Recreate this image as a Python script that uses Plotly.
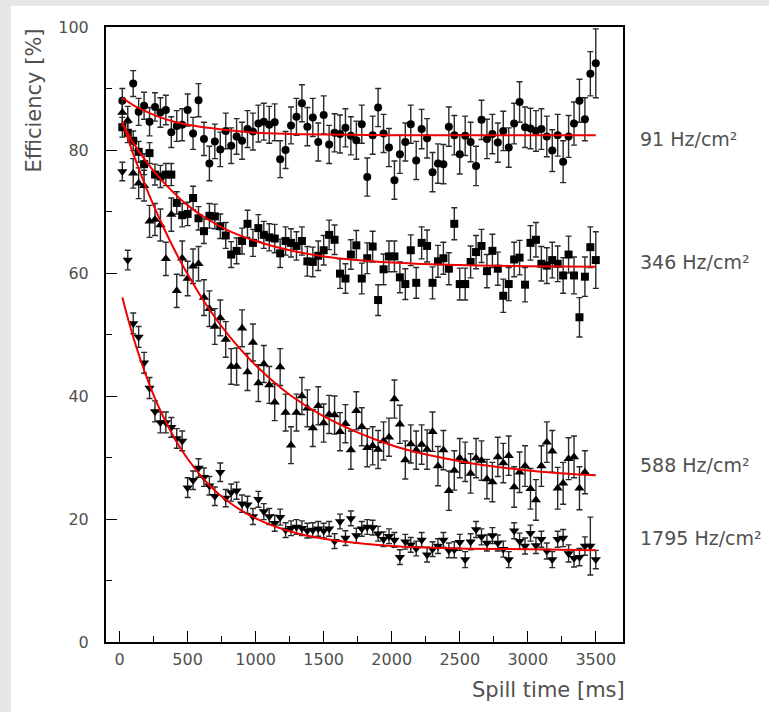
import plotly.graph_objects as go

# ---------------- data ----------------
spill_time = [20, 60, 100, 140, 180, 220, 260, 300, 340, 380, 420,
              460, 500, 540, 580, 620, 660, 700, 740, 780, 820, 860,
              900, 940, 980, 1020, 1060, 1100, 1140, 1180, 1220, 1260, 1300,
              1340, 1380, 1420, 1460, 1500, 1540, 1580, 1620, 1660, 1700, 1740,
              1780, 1820, 1860, 1900, 1940, 1980, 2020, 2060, 2100, 2140, 2180,
              2220, 2260, 2300, 2340, 2380, 2420, 2460, 2500, 2540, 2580, 2620,
              2660, 2700, 2740, 2780, 2820, 2860, 2900, 2940, 2980, 3020, 3060,
              3100, 3140, 3180, 3220, 3260, 3300, 3340, 3380, 3420, 3460, 3500]

eff_91 = [88.0, None, 90.8, 86.2, 87.2, 84.6, 87.0, 86.1, 86.5, 82.9, 83.9,
          84.1, 86.5, 82.7, 88.1, 81.8, 77.8, 81.4, 80.1, 83.1, 80.7, 82.2,
          81.5, 83.4, 83.0, 84.3, 84.6, 84.1, 84.5, 78.5, 80.0, 84.0, 85.4,
          87.6, 83.8, 85.3, 81.3, 85.7, 80.9, 82.8, 82.6, 83.6, 82.3, 81.6,
          84.2, 75.6, 82.4, 86.9, 82.7, 80.4, 75.1, 79.3, 81.3, 84.2, 78.3,
          83.4, 81.9, 76.4, 77.8, 77.7, 83.8, 82.4, 79.3, 82.3, 81.3, 77.4,
          84.9, 81.8, 82.6, 81.2, 83.1, 80.4, 84.3, 87.8, 83.7, 83.5, 83.1,
          83.4, 82.2, 79.9, 82.4, 78.1, 82.2, 84.3, 88.0, 85.0, 92.4, 94.1]
err_91 = [2.0, 0.0, 2.1, 2.2, 2.2, 2.3, 2.3, 2.4, 2.4, 2.5, 2.5,
          2.6, 2.6, 2.6, 2.7, 2.7, 2.8, 2.8, 2.8, 2.9, 2.9, 2.9,
          3.0, 3.0, 3.0, 3.0, 3.0, 3.0, 3.0, 3.0, 3.0, 3.0, 3.0,
          3.0, 3.1, 3.1, 3.1, 3.1, 3.1, 3.1, 3.1, 3.1, 3.1, 3.1,
          3.1, 3.1, 3.1, 3.1, 3.1, 3.1, 3.1, 3.1, 3.1, 3.1, 3.1,
          3.2, 3.2, 3.2, 3.2, 3.2, 3.2, 3.2, 3.2, 3.2, 3.2, 3.2,
          3.2, 3.2, 3.2, 3.2, 3.2, 3.2, 3.3, 3.3, 3.3, 3.3, 3.3,
          3.3, 3.3, 3.4, 3.4, 3.4, 3.4, 3.5, 3.5, 3.5, 3.6, 5.6]

eff_346 = [83.7, 82.8, 81.5, 79.7, 77.7, 79.5, 76.0, 75.7, 76.0, 76.0, 71.4,
           69.4, 69.6, 72.2, 68.9, 66.8, 69.3, 69.2, 67.6, 66.1, 63.0, 63.6,
           65.2, 68.0, 64.9, 67.3, 66.2, 65.8, 65.6, 63.2, 65.2, 64.9, 64.4,
           65.2, 61.9, 61.8, 62.8, 63.7, 66.2, 65.4, 59.9, 59.1, 63.0, 64.5,
           59.1, 62.4, 64.3, 55.6, 60.6, 62.7, 62.7, 59.3, 58.2, 63.7, 58.4,
           64.9, 64.4, 58.4, 61.9, 62.4, 60.7, 68.0, 58.2, 58.2, 61.8, 63.4,
           64.4, 60.3, 63.6, 60.7, 56.3, 58.2, 62.2, 62.5, 58.1, 64.9, 65.4,
           61.5, 61.2, 62.1, 61.5, 59.6, 63.0, 59.6, 52.8, 59.4, 64.2, 62.1]
err_346 = [1.6, 1.6, 1.6, 1.7, 1.7, 1.7, 1.7, 1.8, 1.8, 1.8, 1.8,
           1.9, 1.9, 1.9, 1.9, 2.0, 2.0, 2.0, 2.0, 2.1, 2.1, 2.1,
           2.1, 2.2, 2.2, 2.2, 2.2, 2.2, 2.3, 2.3, 2.3, 2.3, 2.3,
           2.3, 2.4, 2.4, 2.4, 2.4, 2.4, 2.4, 2.4, 2.4, 2.4, 2.4,
           2.5, 2.5, 2.5, 2.5, 2.5, 2.5, 2.5, 2.5, 2.5, 2.5, 2.5,
           2.6, 2.6, 2.6, 2.6, 2.6, 2.6, 2.6, 2.6, 2.6, 2.6, 2.7,
           2.7, 2.7, 2.7, 2.7, 2.7, 2.7, 2.8, 2.8, 2.8, 2.8, 2.8,
           2.8, 2.9, 2.9, 2.9, 2.9, 3.0, 3.0, 3.2, 3.2, 3.3, 4.6]

eff_588 = [86.1, 84.8, 76.2, 74.6, 74.2, 68.4, 68.7, 67.8, 62.3, 69.5, 57.1,
           62.4, 59.1, 61.1, 61.5, 56.0, 54.2, 51.3, 52.7, 49.2, 44.8, 44.8,
           51.0, 43.9, 48.7, 42.1, 45.2, 41.8, 39.0, 44.7, 37.3, 32.0, 37.3,
           40.0, 38.0, 34.8, 38.4, 35.6, 37.0, 36.9, 34.2, 35.5, 31.2, 37.6,
           35.0, 31.6, 31.9, 31.3, 32.7, 33.3, 39.5, 35.4, 29.6, 32.2, 31.2,
           32.1, 31.3, 34.2, 28.6, 31.2, 24.6, 27.9, 29.9, 29.3, 27.4, 29.9,
           29.5, 26.5, 26.0, 30.1, 29.1, 30.3, 25.2, 27.6, 28.6, 24.9, 23.1,
           28.6, 32.5, 31.0, 25.0, 25.8, 29.8, 30.1, 25.0, 27.6, None, None]
err_588 = [2.2, 2.3, 2.4, 2.5, 2.5, 2.6, 2.6, 2.6, 2.7, 2.7, 2.7,
           2.8, 2.8, 2.8, 2.8, 2.9, 2.9, 2.9, 2.9, 2.9, 2.9, 3.0,
           3.0, 3.0, 3.0, 3.0, 3.0, 3.0, 3.0, 3.0, 3.0, 3.0, 3.0,
           3.0, 3.0, 3.0, 3.1, 3.1, 3.1, 3.1, 3.1, 3.1, 3.1, 3.1,
           3.1, 3.1, 3.1, 3.1, 3.1, 3.1, 3.1, 3.1, 3.1, 3.1, 3.1,
           3.2, 3.2, 3.2, 3.2, 3.2, 3.2, 3.2, 3.2, 3.2, 3.2, 3.2,
           3.2, 3.2, 3.2, 3.2, 3.2, 3.2, 3.3, 3.3, 3.3, 3.3, 3.3,
           3.3, 3.3, 3.4, 3.4, 3.4, 3.4, 3.4, 3.5, 3.5, 0.0, 0.0]

eff_1795 = [76.5, 62.1, 51.8, 49.6, 45.4, 41.3, 37.5, 35.7, 35.7, 34.9, 33.1,
            32.7, 25.1, 26.3, 28.3, 26.8, 25.4, 23.7, 27.6, 23.4, 24.3, 24.6,
            22.5, 22.3, 20.4, 23.2, 21.2, 20.4, 19.3, 20.3, 18.2, 18.5, 18.7,
            18.5, 18.1, 18.2, 18.4, 18.1, 18.4, 16.4, 19.6, 16.9, 20.1, 17.3,
            18.4, 18.7, 18.6, 17.6, 16.7, 17.2, 16.6, 13.8, 16.3, 15.8, 15.2,
            16.6, 14.2, 15.1, 15.6, 16.6, 14.9, 15.0, 16.2, 13.4, 16.3, 18.3,
            17.1, 16.1, 17.3, 16.1, 15.1, 13.4, 18.1, 16.4, 15.6, 17.7, 15.7,
            16.7, 14.8, 13.4, 16.7, 16.9, 14.4, 13.6, 13.8, 15.6, 15.6, 13.4]
err_1795 = [1.5, 1.6, 1.7, 1.7, 1.7, 1.7, 1.7, 1.7, 1.7, 1.6, 1.6,
            1.6, 1.6, 1.5, 1.5, 1.5, 1.5, 1.5, 1.5, 1.4, 1.4, 1.4,
            1.4, 1.4, 1.3, 1.3, 1.3, 1.3, 1.3, 1.3, 1.2, 1.2, 1.2,
            1.2, 1.2, 1.2, 1.2, 1.2, 1.2, 1.2, 1.2, 1.2, 1.2, 1.2,
            1.2, 1.2, 1.2, 1.2, 1.2, 1.2, 1.2, 1.2, 1.2, 1.2, 1.2,
            1.2, 1.2, 1.2, 1.2, 1.2, 1.2, 1.3, 1.3, 1.3, 1.3, 1.3,
            1.3, 1.3, 1.3, 1.3, 1.3, 1.3, 1.3, 1.3, 1.3, 1.3, 1.3,
            1.3, 1.3, 1.3, 1.3, 1.4, 1.4, 1.4, 1.4, 1.5, 4.7, 1.5]

# exponential fit curves
fit_time = [20, 100, 200, 300, 400, 500, 650, 800, 1000, 1250, 1500, 2000, 2500, 3000, 3500]
fit_91 = [88.5, 87.3, 86.2, 85.3, 84.6, 84.1, 83.6, 83.2, 82.8, 82.6, 82.5, 82.4, 82.4, 82.4, 82.4]
fit_346 = [84.3, 81.2, 78.0, 75.3, 73.0, 71.0, 68.7, 66.9, 65.2, 63.7, 62.7, 61.7, 61.3, 61.1, 61.0]
fit_588 = [84.6, 79.4, 73.6, 68.5, 63.9, 59.8, 54.4, 49.9, 45.0, 40.2, 36.7, 32.0, 29.4, 27.9, 27.1]
fit_1795 = [56.0, 49.6, 43.0, 37.6, 33.3, 29.8, 25.7, 22.8, 20.1, 18.0, 16.8, 15.6, 15.2, 15.1, 14.9]

rate_labels = ["91 Hz/cm²", "346 Hz/cm²", "588 Hz/cm²", "1795 Hz/cm²"]
label_y = [81.8, 61.8, 28.8, 16.9]

x_ticks = [0, 500, 1000, 1500, 2000, 2500, 3000, 3500]
y_ticks = [0, 20, 40, 60, 80, 100]

for arr in (eff_91, err_91, eff_346, err_346, eff_588, err_588, eff_1795, err_1795):
    assert len(arr) == len(spill_time), len(arr)

# ---------------- figure ----------------
FONT = "DejaVu Sans"
TXT = "#505050"

fig = go.Figure()

series = [
    (eff_91, err_91, "circle", 8),
    (eff_346, err_346, "square", 8),
    (eff_588, err_588, "triangle-up", 9),
    (eff_1795, err_1795, "triangle-down", 9),
]
for vals, errs, sym, size in series:
    fig.add_trace(go.Scatter(
        x=spill_time, y=vals, mode="markers",
        marker=dict(symbol=sym, size=size, color="black", line=dict(width=0)),
        error_y=dict(type="data", array=errs, visible=True,
                     color="#2a2a2a", thickness=1.4, width=3),
        showlegend=False, cliponaxis=True,
    ))

for fit in (fit_91, fit_346, fit_588, fit_1795):
    fig.add_trace(go.Scatter(
        x=fit_time, y=fit, mode="lines",
        line=dict(color="#f00000", width=2, shape="spline", smoothing=1.0),
        showlegend=False,
    ))

annotations = []
for txt, yy in zip(rate_labels, label_y):
    annotations.append(dict(
        text=txt, xref="paper", yref="y", x=1.029, y=yy,
        xanchor="left", yanchor="middle", showarrow=False,
        font=dict(family=FONT, size=19, color=TXT),
    ))
annotations.append(dict(
    text="Spill time [ms]", xref="paper", yref="paper", x=1.0077, y=-0.078,
    xanchor="right", yanchor="middle", showarrow=False,
    font=dict(family=FONT, size=21, color=TXT),
))
annotations.append(dict(
    text="Efficiency [%]", xref="paper", yref="paper", x=-0.14, y=1.0,
    xanchor="center", yanchor="top", textangle=-90, showarrow=False,
    font=dict(family=FONT, size=21, color=TXT),
))

fig.update_layout(
    width=769, height=712,
    margin=dict(l=106, r=146, t=27, b=70, pad=0),
    paper_bgcolor="#e6e6e6",
    plot_bgcolor="white",
    annotations=annotations,
    shapes=[dict(type="rect", xref="paper", yref="paper",
                 x0=-0.1838, x1=1.4, y0=-0.2, y1=1.0341,
                 fillcolor="white", line=dict(width=0), layer="below")],
    xaxis=dict(
        range=[-100, 3700], tickvals=x_ticks, ticks="inside", ticklen=11,
        tickwidth=1, tickcolor="black",
        minor=dict(dtick=250, tick0=0, ticks="inside", ticklen=6, tickcolor="black", showgrid=False),
        showline=True, linecolor="black", linewidth=2, mirror=True,
        showgrid=False, zeroline=False,
        tickfont=dict(family=FONT, size=16, color=TXT),
        ticklabelstandoff=2,
    ),
    yaxis=dict(
        range=[0, 100], tickvals=y_ticks, ticks="inside", ticklen=11,
        tickwidth=1, tickcolor="black",
        minor=dict(dtick=10, tick0=0, ticks="inside", ticklen=6, tickcolor="black", showgrid=False),
        showline=True, linecolor="black", linewidth=2, mirror=True,
        showgrid=False, zeroline=False,
        tickfont=dict(family=FONT, size=16, color=TXT),
        ticklabelstandoff=12,
    ),
)

fig.write_html("out.html")
